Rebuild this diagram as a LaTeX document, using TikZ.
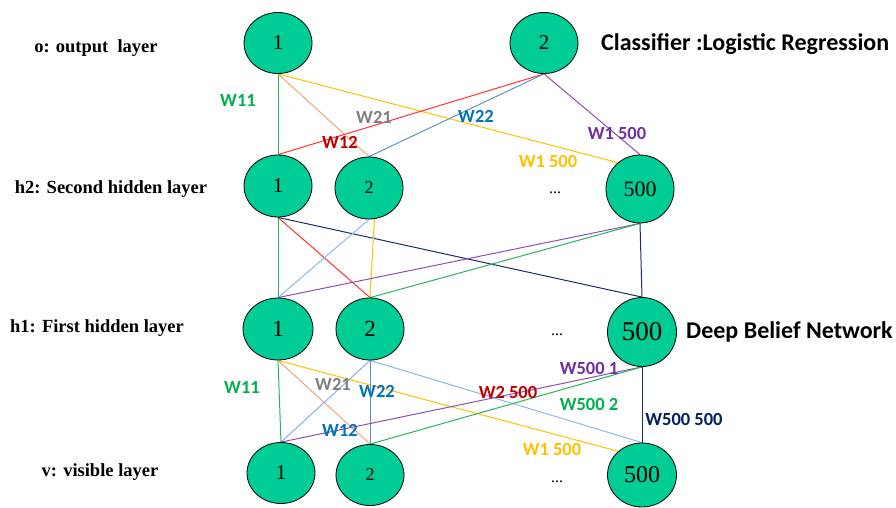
\documentclass[tikz,border=0pt]{standalone}
\usepackage{fontspec}
\setmainfont{Liberation Serif}
\newfontfamily\lblfont{Carlito}
\usetikzlibrary{shapes.geometric,backgrounds}
\definecolor{nodegreen}{RGB}{0,204,150}
\definecolor{lgreen}{RGB}{40,180,90}
\definecolor{lorange}{RGB}{240,165,115}
\definecolor{lyellow}{RGB}{255,192,0}
\definecolor{lred}{RGB}{255,50,50}
\definecolor{lsteel}{RGB}{90,145,210}
\definecolor{llight}{RGB}{140,185,230}
\definecolor{lpurple}{RGB}{140,80,180}
\definecolor{lnavy}{RGB}{25,45,110}
\definecolor{tgreen}{RGB}{0,176,80}
\definecolor{tgray}{RGB}{128,128,128}
\definecolor{tred}{RGB}{192,0,0}
\definecolor{tblue}{RGB}{0,112,192}
\definecolor{tpurple}{RGB}{112,48,160}
\definecolor{tyellow}{RGB}{255,192,0}
\definecolor{tnavy}{RGB}{0,32,96}
\begin{document}
\begin{tikzpicture}[x=1pt,y=-1pt,
  neuron/.style={ellipse, draw=black, line width=0.8pt, fill=nodegreen,
    minimum width=68pt, minimum height=61pt, inner sep=0pt,
    font=\fontsize{21}{23}\selectfont},
  wlabel/.style={font=\lblfont\bfseries\fontsize{18.5}{20}\selectfont, inner sep=0pt},
  layerlabel/.style={font=\bfseries\fontsize{18.5}{20}\selectfont, inner sep=0pt},
  titlelabel/.style={font=\lblfont\bfseries\fontsize{24}{26}\selectfont, inner sep=0pt, anchor=west},
  dotslabel/.style={font=\fontsize{16}{18}\selectfont, inner sep=0pt},
  conn/.style={line width=1pt}]
\useasboundingbox (0,0) rectangle (896,508);

% nodes
\node[neuron] (o1) at (278,43) {1};
\node[neuron] (o2) at (544,43) {2};
\node[neuron, minimum height=62pt] (h21) at (278,186) {1};
\node[neuron, minimum height=62pt, font=\fontsize{18}{20}\selectfont] (h22) at (369,188) {2};
\node[neuron, minimum height=68pt, font=\fontsize{22}{24}\selectfont] (h2k) at (640,189) {500};
\node[neuron, minimum width=70pt, minimum height=62pt, font=\fontsize{23}{25}\selectfont] (h11) at (278,329) {1};
\node[neuron, minimum height=62pt, font=\fontsize{23}{25}\selectfont] (h12) at (370,329) {2};
\node[neuron, minimum width=69pt, minimum height=69pt, font=\fontsize{27}{29}\selectfont] (h1k) at (642,332) {500};
\node[neuron] (v1) at (281,473) {1};
\node[neuron, font=\fontsize{18}{20}\selectfont] (v2) at (370,475) {2};
\node[neuron, minimum width=69pt, minimum height=64pt, font=\fontsize{24}{26}\selectfont] (vk) at (642,475) {500};

% connectors
\begin{scope}[on background layer]
\draw[conn, lgreen]  (o1.south) -- (h21.north);
\draw[conn, lorange] (o1.south) -- (h22.north);
\draw[conn, lyellow] (o1.south) -- (h2k.130);
\draw[conn, lred]    (o2.south) -- (h21.north);
\draw[conn, lsteel]  (o2.south) -- (h22.north);
\draw[conn, lpurple] (o2.south) -- (h2k.north);

\draw[conn, lgreen]  (h21.south) -- (h11.north);
\draw[conn, lred]    (h21.south) -- (h12.north);
\draw[conn, lnavy]   (h21.south) -- (h1k.north);
\draw[conn, llight]  (h22.south) -- (h11.north);
\draw[conn, lyellow] (h22.-80) -- (h12.north);
\draw[conn, lpurple] (h2k.south) -- (h11.north);
\draw[conn, lgreen]  (h2k.south) -- (h12.north);
\draw[conn, lnavy]   (h2k.south) -- (h1k.north);

\draw[conn, lgreen]  (h11.south) -- (v1.north);
\draw[conn, lorange] (h11.south) -- (v2.north);
\draw[conn, lyellow] (h11.south) -- (vk.135);
\draw[conn, llight!80!lsteel] (h12.south) -- (v1.north);
\draw[conn, lsteel]  (h12.south) -- (v2.north);
\draw[conn, llight]  (h12.south) -- (vk.north);
\draw[conn, lpurple] (h1k.south) -- (v1.north);
\draw[conn, lgreen]  (h1k.south) -- (v2.north);
\draw[conn, lnavy]   (h1k.south) -- (vk.north);
\end{scope}

% weight labels (top)
\node[wlabel, text=tgreen]  (lw11a) at (238,100) {W11};
\node[wlabel, text=tgray]   (lw21a) at (374,117) {W21};
\node[wlabel, text=tred]    (lw12a) at (340,142) {W12};
\node[wlabel, text=tblue]   (lw22a) at (476,116) {W22};
\node[wlabel, text=tpurple] (lw1ka) at (617,133) {W1 500};
\node[wlabel, text=tyellow] (lw1kb) at (548,161) {W1 500};

% weight labels (bottom)
\node[wlabel, text=tgreen]  (lw11b) at (242,387) {W11};
\node[wlabel, text=tgray]   (lw21b) at (333,384) {W21};
\node[wlabel, text=tblue]   (lw22b) at (377,391) {W22};
\node[wlabel, text=tblue]   (lw12b) at (340,430) {W12};
\node[wlabel, text=tred]    (lw2k)  at (508,392) {W2 500};
\node[wlabel, text=tpurple] (lwk1)  at (589,368) {W500 1};
\node[wlabel, text=tgreen]  (lwk2)  at (589,404) {W500 2};
\node[wlabel, text=tnavy]   (lwkk)  at (684,419) {W500 500};
\node[wlabel, text=tyellow] (lw1kc) at (552,449) {W1 500};

% layer labels
\node[layerlabel] (lo)  at (96,48)  {o: output~~layer};
\node[layerlabel] (lh2) at (111,189) {h2: Second hidden layer};
\node[layerlabel] (lh1) at (97,328) {h1: First hidden layer};
\node[layerlabel] (lv)  at (100,472) {v: visible layer};

% titles
\node[titlelabel] (tcls) at (601,44) {Classifier :Logistic Regression};
\node[titlelabel] (tdbn) at (686,332) {Deep Belief Network};

% dots
\node[dotslabel] (d1) at (555,193) {...};
\node[dotslabel] (d2) at (557,335) {...};
\node[dotslabel] (d3) at (557,482) {...};
\end{tikzpicture}
\end{document}
